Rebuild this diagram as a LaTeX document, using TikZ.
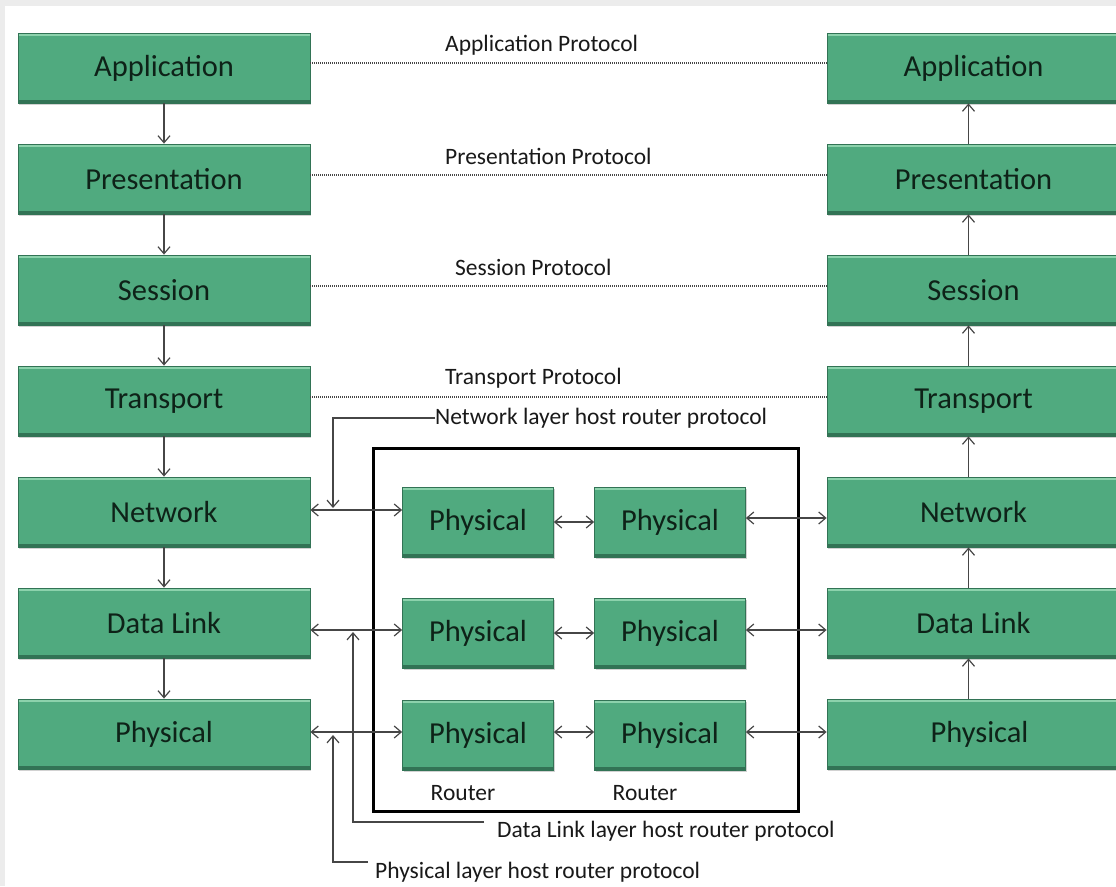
\documentclass[tikz,border=0pt]{standalone}
\usepackage{fontspec}
\setmainfont{Carlito}
\usetikzlibrary{arrows.meta,shadows}
\definecolor{boxfill}{RGB}{80,170,127}
\definecolor{boxdark}{RGB}{50,115,85}
\definecolor{boxlight}{RGB}{140,210,172}
\definecolor{boxtext}{RGB}{14,34,24}
\definecolor{linegray}{RGB}{70,70,70}
\definecolor{framegray}{RGB}{236,236,236}
\tikzset{
  layer/.style={rectangle, fill=boxfill, draw=boxdark, line width=0.8pt,
    minimum width=292pt, minimum height=70pt, inner sep=0pt,
    font=\fontsize{30.5}{33}\selectfont, text=boxtext,
    drop shadow={shadow xshift=1pt, shadow yshift=-2pt, opacity=0.35},
    path picture={
      \fill[boxlight] ([yshift=-3pt]path picture bounding box.north west) rectangle (path picture bounding box.north east);
      \fill[boxdark] (path picture bounding box.south west) rectangle ([yshift=3pt]path picture bounding box.south east);
    }},
  router/.style={layer, minimum width=151pt},
  plabel/.style={inner sep=0pt, anchor=west, font=\fontsize{23.5}{26}\selectfont, text=black!90},
  arr/.style={draw=linegray, line width=1.2pt, -{Straight Barb[length=7pt,width=12pt]}},
  darr/.style={draw=linegray, line width=1.2pt, {Straight Barb[length=7pt,width=12pt]}-{Straight Barb[length=7pt,width=12pt]}},
  dotline/.style={draw=linegray, line width=1.3pt, dash pattern=on 1pt off 1pt},
  bigframe/.style={draw=black, line width=3pt}
}
\begin{document}
\begin{tikzpicture}[x=1pt,y=-1pt]
\useasboundingbox (0,0) rectangle (1116,886);
\clip (0,0) rectangle (1116,886);
\fill[framegray] (0,0) rectangle (1116,886);
\fill[white] (5,6) rectangle (1116,886);

% left stack
\node[layer] (La) at (164,68) {Application};
\node[layer] (Lpr) at (164,179) {Presentation};
\node[layer] (Ls) at (164,290) {Session};
\node[layer] (Lt) at (164,401) {Transport};
\node[layer] (Ln) at (164,512) {Network};
\node[layer] (Ld) at (164,623) {Data Link};
\node[layer] (Lp) at (164,734) {Physical};

% right stack
\node[layer, minimum width=293pt] (Ra) at (973.5,68) {Application};
\node[layer, minimum width=293pt] (Rpr) at (973.5,179) {Presentation};
\node[layer, minimum width=293pt] (Rs) at (973.5,290) {Session};
\node[layer, minimum width=293pt] (Rt) at (973.5,401) {Transport};
\node[layer, minimum width=293pt] (Rn) at (973.5,512) {Network};
\node[layer, minimum width=293pt] (Rd) at (973.5,623) {Data Link};
\node[layer, minimum width=293pt] (Rp) at (973.5,734) {\hspace*{12pt}Physical};

% router frame
\draw[bigframe] (373,448) rectangle (798,811);

% router boxes
\node[router] (P11) at (478,522) {Physical};
\node[router] (P12) at (670,522) {Physical};
\node[router] (P21) at (478,633) {Physical};
\node[router] (P22) at (670,633) {Physical};
\node[router] (P31) at (478,735) {Physical};
\node[router] (P32) at (670,735) {Physical};
\node[inner sep=0pt, font=\fontsize{23.5}{26}\selectfont, text=black!90] (r1) at (463,793) {Router};
\node[inner sep=0pt, font=\fontsize{23.5}{26}\selectfont, text=black!90] (r2) at (645,793) {Router};

% vertical arrows
\draw[arr] (La.south) -- (Lpr.north);
\draw[arr] (Lpr.south) -- (Ls.north);
\draw[arr] (Ls.south) -- (Lt.north);
\draw[arr] (Lt.south) -- (Ln.north);
\draw[arr] (Ln.south) -- (Ld.north);
\draw[arr] (Ld.south) -- (Lp.north);
\draw[arr] ([xshift=-5pt]Rp.north) -- ([xshift=-5pt]Rd.south);
\draw[arr] ([xshift=-5pt]Rd.north) -- ([xshift=-5pt]Rn.south);
\draw[arr] ([xshift=-5pt]Rn.north) -- ([xshift=-5pt]Rt.south);
\draw[arr] ([xshift=-5pt]Rt.north) -- ([xshift=-5pt]Rs.south);
\draw[arr] ([xshift=-5pt]Rs.north) -- ([xshift=-5pt]Rpr.south);
\draw[arr] ([xshift=-5pt]Rpr.north) -- ([xshift=-5pt]Ra.south);

% peer protocols
\draw[dotline] ([yshift=5pt]La.east) -- ([yshift=5pt]Ra.west);
\draw[dotline] ([yshift=4pt]Lpr.east) -- ([yshift=4pt]Rpr.west);
\draw[dotline] ([yshift=4pt]Ls.east) -- ([yshift=4pt]Rs.west);
\draw[dotline] ([yshift=4pt]Lt.east) -- ([yshift=4pt]Rt.west);
\node[plabel] (ap) at (445,45) {Application Protocol};
\node[plabel] (pp) at (445,156) {Presentation Protocol};
\node[plabel] (sp) at (455,267) {Session Protocol};
\node[plabel] (tp) at (445,378) {Transport Protocol};

% horizontal links
\draw[darr] ([yshift=2pt]Ln.east) -- ([yshift=2pt]Ln.east -| P11.west);
\draw[darr] (P11.east) -- (P12.west);
\draw[darr] ([yshift=4pt]P12.east) -- ([yshift=4pt]P12.east -| Rn.west);
\draw[darr] ([yshift=3pt]Ld.east |- P21.west) -- ([yshift=3pt]P21.west);
\draw[darr] (P21.east) -- (P22.west);
\draw[darr] ([yshift=3pt]P22.east) -- ([yshift=3pt]P22.east -| Rd.west);
\draw[darr] ([yshift=3pt]Lp.east |- P31.west) -- ([yshift=3pt]P31.west);
\draw[darr] ([yshift=3pt]P31.east) -- ([yshift=3pt]P32.west);
\draw[darr] ([yshift=3pt]P32.east) -- ([yshift=3pt]P32.east -| Rp.west);

% host-router protocol labels
\node[plabel] (npl) at (435,418) {Network layer host router protocol};
\node[plabel] (dpl) at (497,831) {Data Link layer host router protocol};
\node[plabel] (ppl) at (375,872) {Physical layer host router protocol};
\coordinate (nda) at (333,508);
\coordinate (dla) at (353,632);
\coordinate (pla) at (333,735);
\draw[arr] (npl.west) -| (nda);
\draw[arr] ([xshift=-13pt,yshift=9pt]dpl.west) -| (dla);
\draw[arr] ([xshift=-7pt,yshift=10pt]ppl.west) -| (pla);
\end{tikzpicture}
\end{document}
